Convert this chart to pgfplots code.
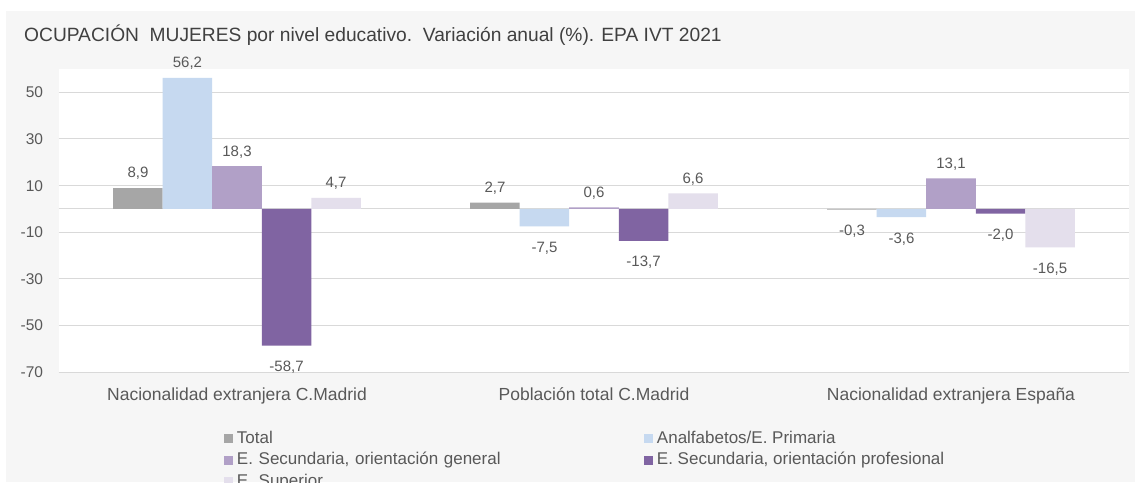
\documentclass[border=0pt]{standalone}
\usepackage{fontspec}
\setmainfont{Liberation Sans}
\usepackage{pgfplots}
\pgfplotsset{compat=1.18}
\definecolor{bgc}{HTML}{F6F6F6}
\definecolor{gridc}{HTML}{D9D9D9}
\definecolor{textc}{HTML}{595959}
\definecolor{titlec}{HTML}{404040}
\definecolor{cTotal}{HTML}{A6A6A6}
\definecolor{cAnalf}{HTML}{C6D9F0}
\definecolor{cSecGen}{HTML}{B1A0C7}
\definecolor{cSecProf}{HTML}{8064A2}
\definecolor{cSup}{HTML}{E4DFEC}
\begin{document}
\begin{tikzpicture}
\useasboundingbox (0pt,0pt) rectangle (1135pt,-482pt);
\clip (0pt,0pt) rectangle (1135pt,-482pt);
\fill[bgc] (6pt,-11pt) rectangle (1135pt,-482pt);
\node[anchor=base west, inner sep=0pt, text=titlec, font=\fontsize{19.2}{23}\selectfont] at (24pt,-41.7pt)
  {OCUPACIÓN\ \ MUJERES por nivel educativo.\ \ Variación anual (\%). EPA IVT 2021};
\begin{axis}[
  at={(58.5pt,-372pt)}, anchor=south west,
  scale only axis, width=1071pt, height=303pt,
  ybar=0pt, bar width=0.1387,
  xmin=-0.5, xmax=2.5, ymin=-70, ymax=60,
  xtick={0,1,2},
  xticklabels={Nacionalidad extranjera C.Madrid, Población total C.Madrid, Nacionalidad extranjera España},
  ytick={-70,-50,-30,-10,10,30,50},
  extra y ticks={0}, extra y tick labels={},
  extra y tick style={grid=major},
  ymajorgrids, grid style={draw=gridc, line width=0.9pt},
  axis line style={draw=none}, major tick length=0pt,
  axis background/.style={fill=white},
  /pgf/number format/assume math mode=true,
  yticklabel style={font=\fontsize{15.5}{18}\selectfont, text=textc, inner sep=0pt, anchor=east, xshift=-15.2pt, text height=11.1pt, text depth=0pt},
  xticklabel style={font=\fontsize{17.5}{20}\selectfont, text=textc, inner sep=0pt, anchor=north, yshift=-15.3pt, text height=12.5pt, text depth=0pt},
  nodes near coords={\pgfmathprintnumber[fixed,fixed zerofill,precision=1,use comma,assume math mode=true]{\pgfplotspointmeta}},
  visualization depends on={rawy \as \rawy},
  every node near coord/.append style={font=\fontsize{15}{18}\selectfont, text=textc, inner sep=0pt, anchor=center, text height=10.7pt, text depth=0pt, yshift={ifthenelse(\rawy>0,15.5,-20.7)}},
  legend columns=2, legend cell align=left,
  legend image code/.code={\draw[#1,draw=none] (0pt,-4.5pt) rectangle (9pt,4.5pt);},
  legend style={at={(0.1545,-0.1947)}, anchor=north west, draw=none, fill=none, inner sep=0pt, outer sep=0pt,
    font=\fontsize{17}{20}\selectfont, text=textc, row sep=5.8pt, column sep=4pt,
    nodes={inner sep=0pt, text height=12.2pt, text depth=3.5pt},
    /tikz/column 2/.style={nodes={text width=403pt}}},
]
\addplot[fill=cTotal, draw=none, bar shift=-0.2774] coordinates {(0,8.9) (1,2.7) (2,-0.3)};
\addplot[fill=cAnalf, draw=none, bar shift=-0.1387] coordinates {(0,56.2) (1,-7.5) (2,-3.6)};
\addplot[fill=cSecGen, draw=none, bar shift=0] coordinates {(0,18.3) (1,0.6) (2,13.1)};
\addplot[fill=cSecProf, draw=none, bar shift=0.1387] coordinates {(0,-58.7) (1,-13.7) (2,-2.0)};
\addplot[fill=cSup, draw=none, bar shift=0.2774] coordinates {(0,4.7) (1,6.6) (2,-16.5)};
\legend{Total, Analfabetos/E. Primaria, {E. Secundaria, orientación general}, {E. Secundaria, orientación profesional}, E. Superior}
\end{axis}
\end{tikzpicture}
\end{document}
